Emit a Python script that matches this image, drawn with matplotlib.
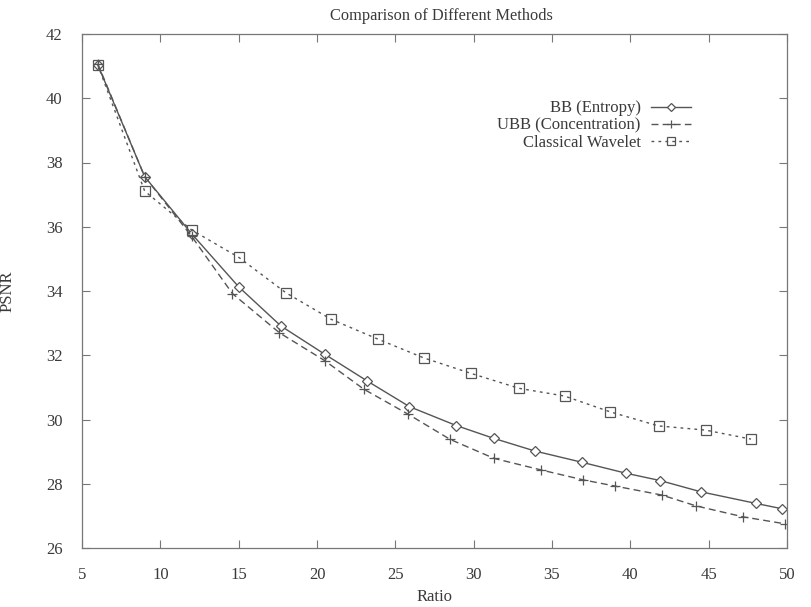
import matplotlib
matplotlib.use("Agg")
import matplotlib.pyplot as plt

# ---- data ----
bb_x = [6, 9, 12, 15, 17.7, 20.5, 23.2, 25.9, 28.9, 31.3, 33.9, 36.9, 39.7, 41.9, 44.5, 48.0, 49.7]
bb_y = [41.05, 37.56, 35.78, 34.13, 32.91, 32.03, 31.20, 30.40, 29.81, 29.41, 29.02, 28.67, 28.33, 28.10, 27.75, 27.39, 27.22]

ubb_x = [6, 9, 12, 14.6, 17.6, 20.5, 23.0, 25.8, 28.5, 31.3, 34.3, 37.0, 39.0, 42.0, 44.2, 47.2, 49.9]
ubb_y = [41.08, 37.56, 35.70, 33.92, 32.70, 31.83, 30.94, 30.17, 29.38, 28.79, 28.43, 28.12, 27.93, 27.65, 27.31, 26.97, 26.75]

wav_x = [6, 9, 12, 15, 18, 20.9, 23.9, 26.8, 29.8, 32.9, 35.8, 38.7, 41.8, 44.8, 47.7]
wav_y = [41.05, 37.11, 35.90, 35.05, 33.95, 33.12, 32.50, 31.92, 31.44, 30.97, 30.73, 30.24, 29.80, 29.67, 29.39]

labels = ["BB (Entropy)", "UBB (Concentration)", "Classical Wavelet"]
x_ticks = [5, 10, 15, 20, 25, 30, 35, 40, 45, 50]
y_ticks = [26, 28, 30, 32, 34, 36, 38, 40, 42]

title = "Comparison of Different Methods"
xlabel = "Ratio"
ylabel = "PSNR"

# ---- style ----
plt.rcParams['font.family'] = ['Liberation Serif', 'DejaVu Serif']
ink = '#3a3a3a'
line_c = '#555555'

fig = plt.figure(figsize=(8.11, 6.07), dpi=100)
ax = fig.add_axes([82/811, 1-548/607, (787-82)/811, (548-34)/607])

ax.plot(bb_x, bb_y, color=line_c, lw=1.0, ls='-', marker='D', ms=5.5,
        mfc='white', mec=line_c, mew=0.9, label=labels[0])
ax.plot(ubb_x, ubb_y, color=line_c, lw=1.0, ls=(0, (5, 3)), marker='+', ms=7,
        mec=line_c, mew=0.9, label=labels[1])
ax.plot(wav_x, wav_y, color=line_c, lw=1.0, ls=(0, (2, 3)), marker='s', ms=7,
        mfc='none', mec=line_c, mew=0.9, label=labels[2])

ax.set_xlim(5, 50)
ax.set_ylim(26, 42)
ax.set_xticks(x_ticks)
ax.set_yticks(y_ticks)
ax.tick_params(direction='in', length=6, width=0.8, colors='#777777',
               top=True, right=True, labelsize=12, labelcolor=ink)
ax.tick_params(axis='x', pad=14)
ax.tick_params(axis='y', pad=14)
for s in ax.spines.values():
    s.set_color('#777777')
    s.set_linewidth(0.9)

ax.set_title(title, fontsize=11.8, color=ink, pad=10, x=0.51)
ax.set_xlabel(xlabel, fontsize=12, color=ink, labelpad=4)
ax.set_ylabel(ylabel, fontsize=12, color=ink, labelpad=22)

leg = ax.legend(loc='upper right', bbox_to_anchor=(0.875, 0.887),
                markerfirst=False, frameon=False, fontsize=12,
                handlelength=2.4, handletextpad=0.6, labelspacing=0.08,
                borderpad=0.0, labelcolor=ink, markerscale=0.8)
try:
    leg._legend_box._children[-1]._children[0].align = "right"
except Exception:
    pass

fig.savefig("out.png", dpi=100)
